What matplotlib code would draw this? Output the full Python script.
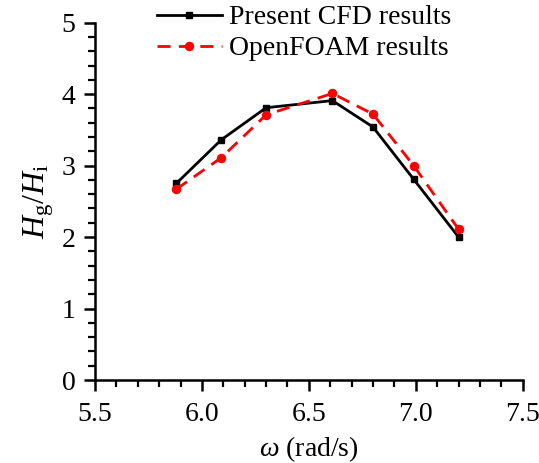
import matplotlib
matplotlib.use("Agg")
import matplotlib.pyplot as plt
from matplotlib.ticker import MultipleLocator

# wave frequency (rad/s) and gap wave height ratio Hg/Hi
omega = [5.88, 6.09, 6.30, 6.61, 6.80, 6.99, 7.20]
cfd_ratio = [2.75, 3.36, 3.81, 3.91, 3.54, 2.81, 2.00]
openfoam_ratio = [2.67, 3.11, 3.71, 4.01, 3.72, 3.00, 2.11]

x_ticks = [5.5, 6.0, 6.5, 7.0, 7.5]
y_ticks = [0, 1, 2, 3, 4, 5]

plt.rcParams["font.family"] = ["Liberation Serif", "DejaVu Serif"]
plt.rcParams["mathtext.fontset"] = "custom"
plt.rcParams["mathtext.rm"] = "Liberation Serif"
plt.rcParams["mathtext.it"] = "Liberation Serif:italic"

W, H = 539, 463
fig = plt.figure(figsize=(W / 100, H / 100), dpi=100)
ax = fig.add_axes([95 / W, 1 - 380 / H, 427.7 / W, 357.3 / H])

ax.plot(omega, cfd_ratio, color="black", lw=2, marker="s", ms=5,
        label="Present CFD results")
ax.plot(omega, openfoam_ratio, color="red", lw=2, ls=(0, (4.7, 3)), marker="o",
        ms=5.8, label="OpenFOAM results")

ax.set_xlim(5.5, 7.5)
ax.set_ylim(0, 5)
ax.set_xticks(x_ticks)
ax.set_xticklabels([f"{v:.1f}" for v in x_ticks])
ax.set_yticks(y_ticks)
ax.xaxis.set_minor_locator(MultipleLocator(0.1))
ax.yaxis.set_minor_locator(MultipleLocator(0.2))

for side in ("top", "right"):
    ax.spines[side].set_visible(False)
for side in ("left", "bottom"):
    ax.spines[side].set_linewidth(1.8)

ax.tick_params(which="major", direction="out", length=8, width=1.8, labelsize=20)
ax.tick_params(axis="x", which="major", pad=8)
ax.tick_params(axis="y", which="major", pad=6)
ax.tick_params(which="minor", direction="out", length=5, width=1.6)

ax.set_xlabel(r"$\mathit{\omega}$ (rad/s)", fontsize=20, labelpad=5)
ax.set_ylabel(r"$H_{\mathrm{g}}/H_{\mathrm{i}}$", fontsize=23, labelpad=4)

fig.legend(loc="lower left", bbox_to_anchor=(151 / W, 1 - 67 / H), fontsize=20,
           frameon=False, handlelength=2.35, handletextpad=0.25,
           labelspacing=0.2, borderpad=0.2, borderaxespad=0)

fig.savefig("out.png", dpi=100)
